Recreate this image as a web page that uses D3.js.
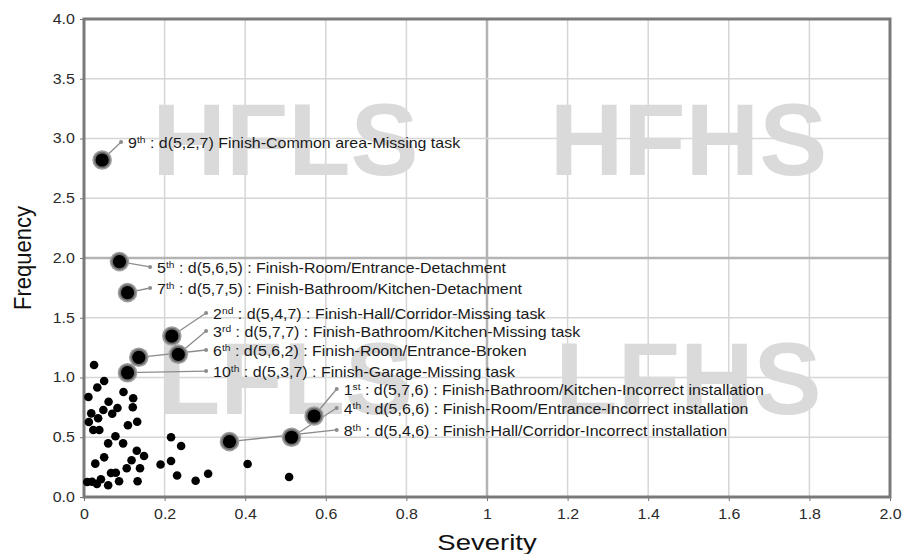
<!DOCTYPE html>
<html>
<head>
    <script src="https://cdn.jsdelivr.net/npm/d3@7"></script>
    <style>
        body { margin: 0; background: #fff; }
        text { font-family: "Liberation Sans", Arial, sans-serif; }
    </style>
</head>

<body>
<div id="chart"></div>

<script>

    // tick values and their printed labels
    var xTicks = [0, 0.2, 0.4, 0.6, 0.8, 1, 1.2, 1.4, 1.6, 1.8, 2.0];
    var xTickLabels = ["0", "0.2", "0.4", "0.6", "0.8", "1", "1.2", "1.4", "1.6", "1.8", "2.0"];
    var yTicks = [0, 0.5, 1, 1.5, 2, 2.5, 3, 3.5, 4];
    var yTickLabels = ["0.0", "0.5", "1.0", "1.5", "2.0", "2.5", "3.0", "3.5", "4.0"];

    // quadrant names
    var quadrants = ["HFLS", "HFHS", "LFLS", "LFHS"];
    var quadrantX = [0.5, 1.5, 0.5, 1.5];
    var quadrantY = [3, 3, 1, 1];

    // other defects (severity, frequency)
    var severity = [0.025, 0.050, 0.033, 0.098, 0.011, 0.122, 0.061, 0.083, 0.121, 0.048,
                    0.070, 0.018, 0.035, 0.012, 0.109, 0.132, 0.023, 0.038, 0.078, 0.216,
                    0.060, 0.097, 0.241, 0.131, 0.050, 0.149, 0.118, 0.028, 0.216, 0.190,
                    0.139, 0.106, 0.406, 0.067, 0.079, 0.042, 0.020, 0.008, 0.032, 0.060,
                    0.087, 0.133, 0.231, 0.277, 0.308, 0.509];
    var frequency = [1.105, 0.971, 0.916, 0.879, 0.837, 0.826, 0.797, 0.745, 0.751, 0.728,
                     0.697, 0.700, 0.659, 0.628, 0.600, 0.630, 0.561, 0.561, 0.508, 0.500,
                     0.449, 0.449, 0.427, 0.387, 0.332, 0.343, 0.307, 0.279, 0.301, 0.272,
                     0.240, 0.240, 0.276, 0.201, 0.203, 0.148, 0.128, 0.126, 0.109, 0.098,
                     0.132, 0.132, 0.180, 0.136, 0.195, 0.167];

    // top 10 defects
    var rankNum = ["9", "5", "7", "2", "3", "6", "10", "1", "4", "8"];
    var rankSuffix = ["th", "th", "th", "nd", "rd", "th", "th", "st", "th", "th"];
    var topCodes = ["d(5,2,7) Finish-Common area-Missing task",
                    "d(5,6,5) : Finish-Room/Entrance-Detachment",
                    "d(5,7,5) : Finish-Bathroom/Kitchen-Detachment",
                    "d(5,4,7) : Finish-Hall/Corridor-Missing task",
                    "d(5,7,7) : Finish-Bathroom/Kitchen-Missing task",
                    "d(5,6,2) : Finish-Room/Entrance-Broken",
                    "d(5,3,7) : Finish-Garage-Missing task",
                    "d(5,7,6) : Finish-Bathroom/Kitchen-Incorrect installation",
                    "d(5,6,6) : Finish-Room/Entrance-Incorrect installation",
                    "d(5,4,6) : Finish-Hall/Corridor-Incorrect installation"];
    var topSeverity = [0.045, 0.088, 0.108, 0.218, 0.234, 0.136, 0.108, 0.571, 0.515, 0.361];
    var topFrequency = [2.82, 1.97, 1.71, 1.347, 1.194, 1.169, 1.04, 0.678, 0.50, 0.463];

    // where each callout ends (data units)
    var calloutX = [0.092, 0.164, 0.164, 0.303, 0.303, 0.303, 0.303, 0.627, 0.627, 0.627];
    var calloutY = [2.971, 1.925, 1.749, 1.54, 1.389, 1.23, 1.054, 0.904, 0.745, 0.561];

    var width = 806;
    var height = 478;
    var padding = { top: 19, right: 13, bottom: 57, left: 84 };
    var stretch = 1.14; // the original picture is wider than its fonts

    var xScale = d3.scaleLinear()
        .domain([0, 2])
        .range([0, width]);

    var yScale = d3.scaleLinear()
        .domain([0, 4])
        .range([height, 0]);

    var svg = d3.select('#chart').append('svg')
        .attr('width', width + padding.left + padding.right)
        .attr('height', height + padding.top + padding.bottom);

    var g = svg.append('g')
        .attr('transform', 'translate(' + padding.left + ', ' + padding.top + ')');

    // grid
    g.selectAll('line.vgrid')
        .data(xTicks.slice(1, -1))
        .enter().append('line')
        .attr('class', 'vgrid')
        .attr('x1', function(d) { return xScale(d); })
        .attr('x2', function(d) { return xScale(d); })
        .attr('y1', 0).attr('y2', height)
        .attr('stroke', function(d) { return d === 1 ? '#b4b4b4' : '#d6d6d6'; })
        .attr('stroke-width', function(d) { return d === 1 ? 2.5 : 1.5; });

    g.selectAll('line.hgrid')
        .data(yTicks.slice(1, -1))
        .enter().append('line')
        .attr('class', 'hgrid')
        .attr('y1', function(d) { return yScale(d); })
        .attr('y2', function(d) { return yScale(d); })
        .attr('x1', 0).attr('x2', width)
        .attr('stroke', function(d) { return d === 2 ? '#b4b4b4' : '#d6d6d6'; })
        .attr('stroke-width', function(d) { return d === 2 ? 2.5 : 1.5; });

    // quadrant watermarks
    g.selectAll('text.quad')
        .data(quadrants)
        .enter().append('text')
        .attr('class', 'quad')
        .attr('x', function(d, i) { return xScale(quadrantX[i]); })
        .attr('y', function(d, i) { return yScale(quadrantY[i]) + 36; })
        .attr('text-anchor', 'middle')
        .attr('font-size', 102)
        .attr('font-weight', 'bold')
        .attr('fill', '#dadada')
        .text(function(d) { return d; });

    // axes
    var yAxis = g.append('g')
        .call(d3.axisLeft(yScale)
            .tickValues(yTicks)
            .tickFormat(function(d, i) { return yTickLabels[i]; })
            .tickSize(4)
            .tickPadding(4));

    var xAxis = g.append('g')
        .attr('transform', 'translate(0,' + height + ')')
        .call(d3.axisBottom(xScale)
            .tickValues(xTicks)
            .tickFormat(function(d, i) { return xTickLabels[i]; })
            .tickSize(4));

    [yAxis, xAxis].forEach(function(ax) {
        ax.select('.domain').remove();
        ax.selectAll('.tick line').attr('stroke', '#777');
        ax.selectAll('.tick text')
            .attr('font-family', '"Liberation Sans", Arial, sans-serif')
            .attr('font-size', 14)
            .attr('fill', '#2a2a2a')
            .attr('transform', 'scale(' + stretch + ',1)');
    });
    xAxis.selectAll('.tick text').attr('dy', '1.05em');

    // frame
    g.append('rect')
        .attr('x', 0).attr('y', 0)
        .attr('width', width).attr('height', height)
        .attr('fill', 'none')
        .attr('stroke', '#7a7a7a')
        .attr('stroke-width', 3);

    // other points
    g.selectAll('circle.point')
        .data(severity)
        .enter().append('circle')
        .attr('class', 'point')
        .attr('cx', function(d) { return xScale(d); })
        .attr('cy', function(d, i) { return yScale(frequency[i]); })
        .attr('r', 4.3)
        .attr('fill', '#000');

    // callout lines
    g.selectAll('line.callout')
        .data(topSeverity)
        .enter().append('line')
        .attr('class', 'callout')
        .attr('x1', function(d) { return xScale(d); })
        .attr('y1', function(d, i) { return yScale(topFrequency[i]); })
        .attr('x2', function(d, i) { return xScale(calloutX[i]); })
        .attr('y2', function(d, i) { return yScale(calloutY[i]); })
        .attr('stroke', '#8c8c8c')
        .attr('stroke-width', 1.3);

    g.selectAll('circle.calloutEnd')
        .data(calloutX)
        .enter().append('circle')
        .attr('class', 'calloutEnd')
        .attr('cx', function(d) { return xScale(d); })
        .attr('cy', function(d, i) { return yScale(calloutY[i]); })
        .attr('r', 2)
        .attr('fill', '#8c8c8c');

    // top 10 points with halo
    var topPoints = g.selectAll('g.top')
        .data(topSeverity)
        .enter().append('g')
        .attr('class', 'top')
        .attr('transform', function(d, i) {
            return 'translate(' + xScale(d) + ',' + yScale(topFrequency[i]) + ')';
        });
    topPoints.append('circle').attr('r', 9.8).attr('fill', '#a0a0a0');
    topPoints.append('circle').attr('r', 8.3).attr('fill', '#6e6e6e');
    topPoints.append('circle').attr('r', 6.6).attr('fill', '#000');

    // labels
    var labels = g.selectAll('text.label')
        .data(topCodes)
        .enter().append('text')
        .attr('class', 'label')
        .attr('transform', function(d, i) {
            return 'translate(' + (xScale(calloutX[i]) + 7) + ',' + (yScale(calloutY[i]) + 6) + ') scale(' + stretch + ',1)';
        })
        .attr('font-size', 14)
        .attr('fill', '#1a1a1a');

    labels.append('tspan').text(function(d, i) { return rankNum[i]; });
    labels.append('tspan')
        .attr('font-size', 9)
        .attr('dy', -5)
        .text(function(d, i) { return rankSuffix[i]; });
    labels.append('tspan')
        .attr('dy', 5)
        .text(function(d) { return ' : ' + d; });

    // axis titles
    svg.append('text')
        .attr('transform', 'translate(' + (padding.left + width / 2) + ',550) scale(1.25,1)')
        .attr('text-anchor', 'middle')
        .attr('font-size', 22)
        .attr('fill', '#111')
        .text('Severity');

    svg.append('text')
        .attr('transform', 'translate(31,' + (padding.top + height / 2) + ') rotate(-90) scale(1,1.1)')
        .attr('text-anchor', 'middle')
        .attr('font-size', 22)
        .attr('fill', '#111')
        .text('Frequency');

</script>
</body>
</html>
